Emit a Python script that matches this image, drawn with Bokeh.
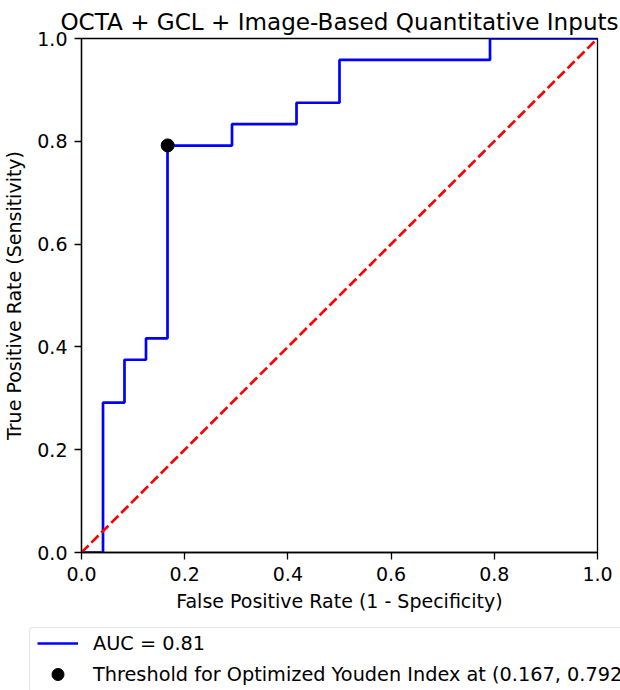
from bokeh.plotting import figure
from bokeh.layouts import column
from bokeh.models import Range1d, FixedTicker, Legend, LegendItem
from bokeh.embed import file_html
from bokeh.resources import INLINE

# ROC curve data (step points)
fpr = [0.0, 0.0417, 0.0417, 0.0833, 0.0833, 0.125, 0.125, 0.1667, 0.1667,
       0.2917, 0.2917, 0.4167, 0.4167, 0.5, 0.5, 0.7917, 0.7917, 1.0]
tpr = [0.0, 0.0, 0.2917, 0.2917, 0.375, 0.375, 0.4167, 0.4167, 0.7917,
       0.7917, 0.8333, 0.8333, 0.875, 0.875, 0.9583, 0.9583, 1.0, 1.0]
chance_x = [0.0, 1.0]
chance_y = [0.0, 1.0]
youden_x = [0.167]
youden_y = [0.792]
ticks = [0.0, 0.2, 0.4, 0.6, 0.8, 1.0]
tick_labels = ["0.0", "0.2", "0.4", "0.6", "0.8", "1.0"]
auc_label = "AUC = 0.81"
youden_label = "Threshold for Optimized Youden Index at (0.167, 0.792)"
title_text = "OCTA + GCL + Image-Based Quantitative Inputs"

FONT = "DejaVu Sans"
BLUE = "#0000ff"
RED = "#ff0000"

p = figure(width=620, height=620, output_backend="svg", toolbar_location=None,
           x_range=Range1d(0, 1), y_range=Range1d(0, 1),
           min_border_left=80, min_border_right=23, min_border_top=38,
           min_border_bottom=68, title=title_text)
p.frame_align = False

p.title.text_font = FONT
p.title.text_font_size = "23.1px"
p.title.text_font_style = "normal"
p.title.align = "center"
p.title.text_color = "black"
p.title.standoff = 7

p.grid.visible = False
p.outline_line_color = "black"
p.outline_line_width = 1.3
p.outline_line_alpha = 1.0
p.background_fill_color = "white"
p.border_fill_color = "white"

for ax in (p.xaxis[0], p.yaxis[0]):
    ax.ticker = FixedTicker(ticks=ticks)
    ax.major_label_overrides = {t: l for t, l in zip(ticks, tick_labels)}
    ax.minor_tick_line_color = None
    ax.major_tick_out = 7
    ax.major_tick_in = 0
    ax.major_tick_line_color = "black"
    ax.major_tick_line_width = 1.3
    ax.axis_line_color = "black"
    ax.axis_line_width = 1.3
    ax.major_label_text_font = FONT
    ax.major_label_text_font_size = "19px"
    ax.major_label_text_color = "black"
    ax.axis_label_text_font = FONT
    ax.axis_label_text_font_size = "19px"
    ax.axis_label_text_font_style = "normal"
    ax.axis_label_text_color = "black"
    ax.major_label_standoff = 7

p.xaxis.axis_label = "False Positive Rate (1 - Specificity)"
p.yaxis.axis_label = "True Positive Rate (Sensitivity)"
p.xaxis.axis_label_standoff = 6
p.yaxis.axis_label_standoff = 9

p.line(fpr, tpr, line_color=BLUE, line_width=2.7)
p.line(chance_x, chance_y, line_color=RED, line_width=2.7, line_dash="10 4")
p.scatter(youden_x, youden_y, size=13, fill_color="black", line_color="black")

# Legend strip below the chart (its view range is set away from the data,
# so only the legend keys and labels are visible here)
q = figure(width=620, height=70, output_backend="svg", toolbar_location=None,
           x_range=Range1d(-3, -2), y_range=Range1d(-3, -2),
           x_axis_type=None, y_axis_type=None,
           min_border=0, min_border_left=0, min_border_right=0,
           min_border_top=0, min_border_bottom=0)
q.frame_align = False
q.grid.visible = False
q.outline_line_color = None
q.background_fill_color = "white"
q.border_fill_color = "white"

roc_key = q.line(fpr, tpr, line_color=BLUE, line_width=2.7)
pt_key = q.scatter(youden_x, youden_y, size=13, fill_color="black", line_color="black")

legend = Legend(items=[LegendItem(label=auc_label, renderers=[roc_key]),
                       LegendItem(label=youden_label, renderers=[pt_key])],
                location=(29, -2))
legend.label_text_font = FONT
legend.label_text_font_size = "19.3px"
legend.label_text_color = "black"
legend.glyph_width = 41
legend.glyph_height = 30
legend.label_height = 30
legend.spacing = 1
legend.padding = dict(left=7, right=7, top=0, bottom=2)
legend.margin = 0
legend.label_standoff = 15
legend.border_line_color = "#cccccc"
legend.border_line_width = 1
legend.border_radius = 4
legend.background_fill_alpha = 0.8
q.add_layout(legend, "center")

layout = column(p, q, spacing=0)
open("out.html", "w").write(file_html(layout, INLINE))
